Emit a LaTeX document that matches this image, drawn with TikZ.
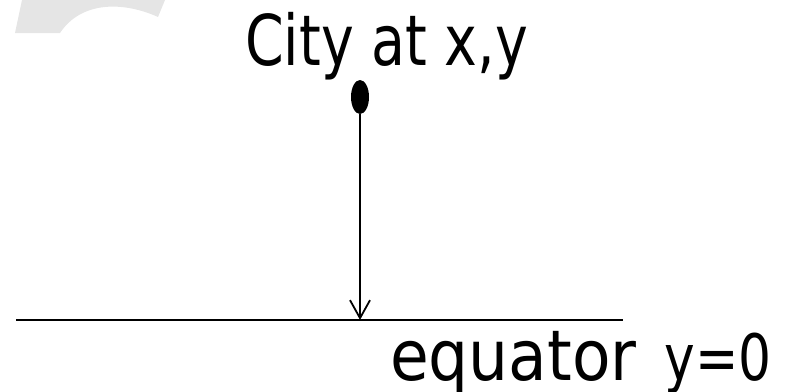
\documentclass[tikz,border=0pt]{standalone}
\usepackage{fontspec}
\setmainfont{DejaVu Sans Condensed}
\newfontfamily\narrowfont[FakeStretch=0.88]{DejaVu Sans Condensed}
\newfontfamily\eqnfont[FakeStretch=0.9]{DejaVu Sans Condensed}
\usetikzlibrary{shapes.geometric,arrows.meta}
\begin{document}
\begin{tikzpicture}[x=1pt,y=-1pt,
  lbl/.style={font=\narrowfont\fontsize{70}{84}\selectfont, inner sep=0pt, text=black},
  lbltwo/.style={font=\fontsize{70}{84}\selectfont, inner sep=0pt, text=black},
  lblthree/.style={font=\eqnfont\fontsize{64}{78}\selectfont, inner sep=0pt, text=black},
  citydot/.style={ellipse, fill=black, minimum width=18pt, minimum height=34pt, inner sep=0pt},
  conn/.style={line width=1.8pt, draw=black}]
\useasboundingbox (0,0) rectangle (789,391);
\fill[black!10] (15,33) -- (22,0) -- (165,0) -- (158,17) .. controls (125,2) and (82,0) .. (60,33) -- cycle;
\node[lbl, anchor=base west] (city) at (245,65) {City at x,y};
\node[citydot] (dot) at (360,97) {};
\coordinate (eqL) at (16,320);
\coordinate (eqR) at (623,320);
\coordinate (foot) at (360,320);
\draw[conn, line width=2pt] (eqL) -- (eqR);
\draw[conn, -{Straight Barb[length=18pt,width=20pt]}] (dot.south) -- (foot);
\node[lbltwo, anchor=base west] (eq) at (390,380) {equator};
\node[lblthree, anchor=base east] (yzero) at (772,380) {y=0};
\end{tikzpicture}
\end{document}
